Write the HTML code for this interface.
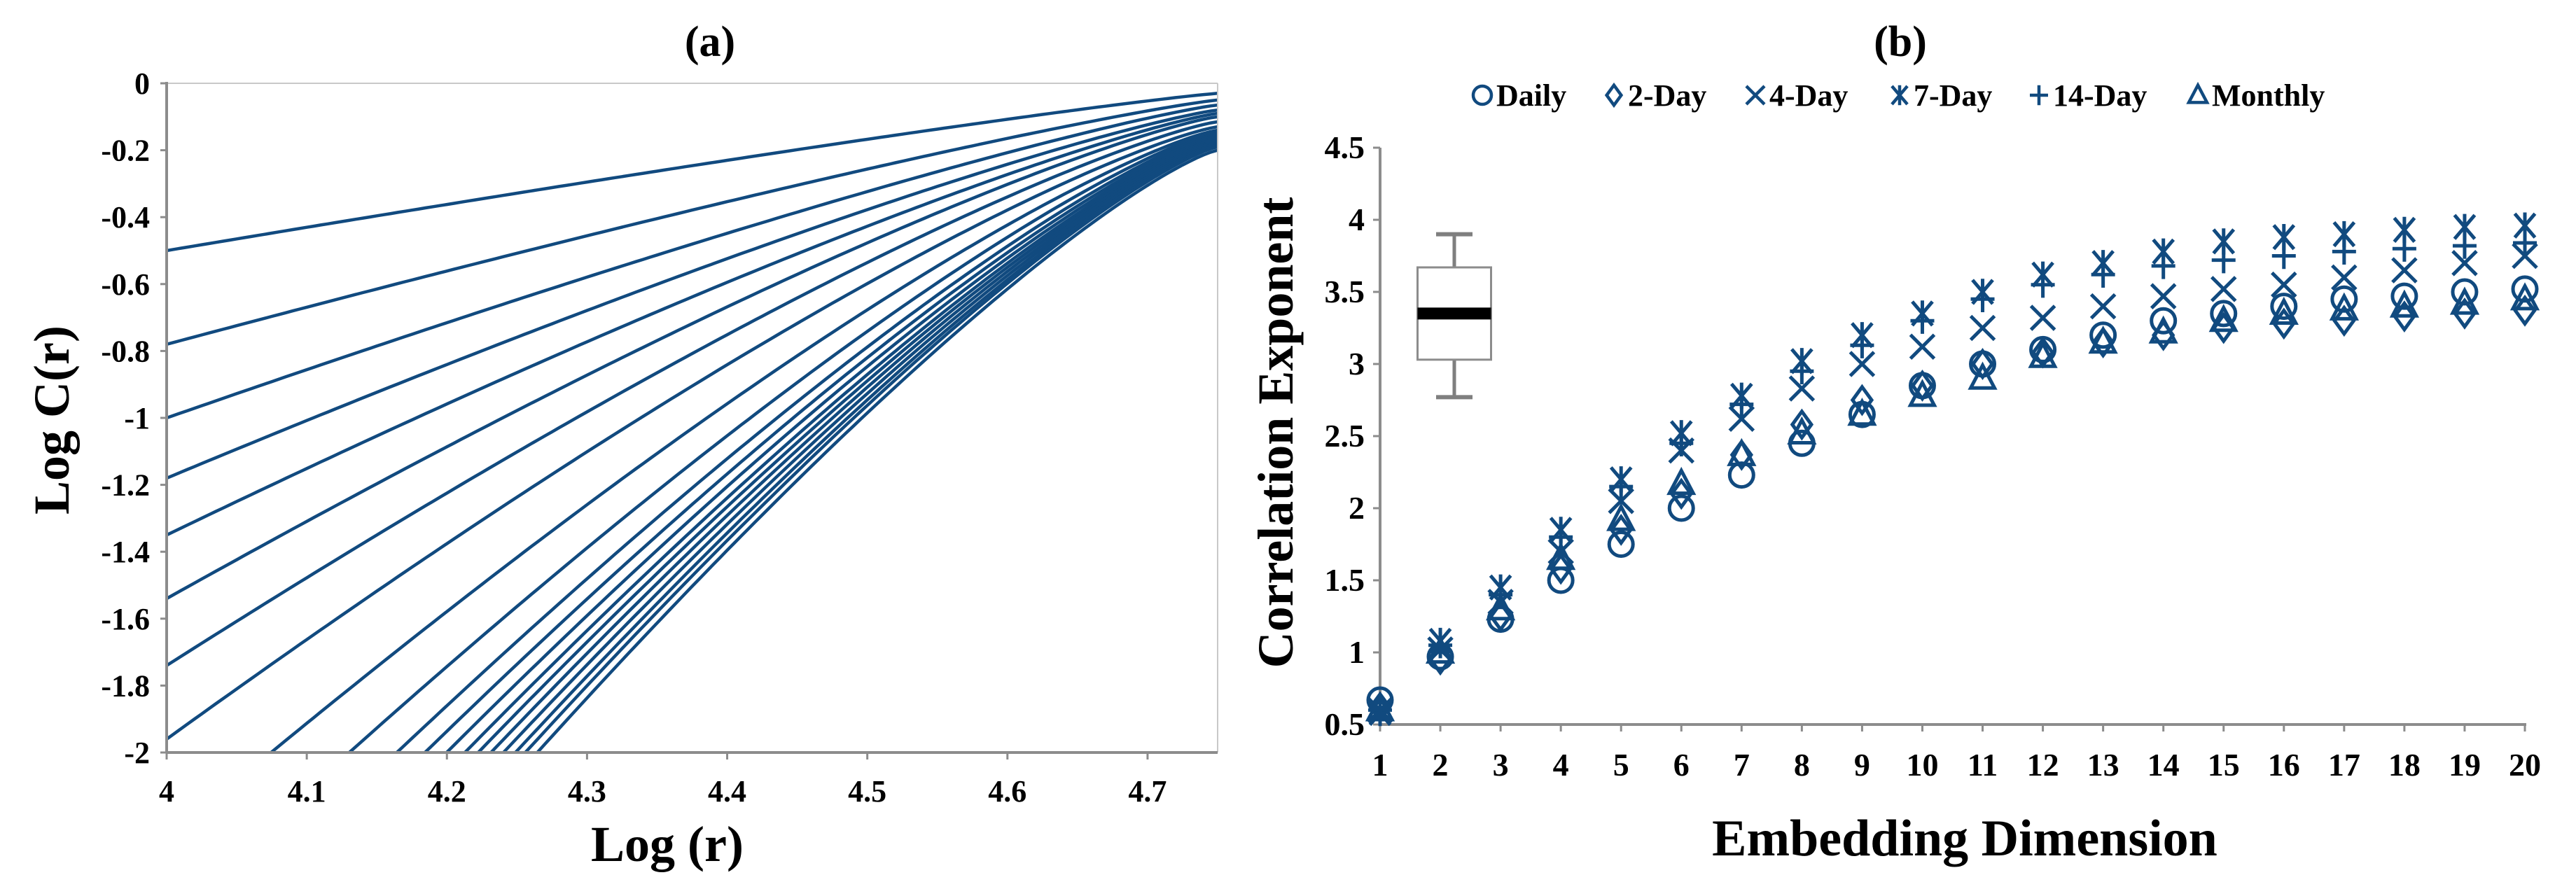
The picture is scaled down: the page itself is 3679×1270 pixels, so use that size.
<!DOCTYPE html>
<html><head><meta charset="utf-8"><style>
html,body{margin:0;padding:0;background:#fff;overflow:hidden;width:3679px;height:1270px;}
svg{display:block;font-family:"Liberation Serif",serif;font-weight:bold;}
</style></head><body>
<svg id="fig" width="3679" height="1270" viewBox="0 0 3679 1270">
<g id="pa"></g>
<g id="pb"></g>
</svg>
<script>
// ---------- Panel (a) data ----------
const aXTicks = [4, 4.1, 4.2, 4.3, 4.4, 4.5, 4.6, 4.7];
const aYTicks = [0, -0.2, -0.4, -0.6, -0.8, -1, -1.2, -1.4, -1.6, -1.8, -2];
const aStartVals = [-0.5,-0.78,-1.0,-1.18,-1.35,-1.54,-1.74,-1.96,-2.26,-2.50,-2.67,-2.78,-2.87,-2.95,-3.01,-3.07,-3.13,-3.19,-3.24,-3.30];
const aEndVals = [-0.03,-0.05,-0.065,-0.08,-0.09,-0.1,-0.115,-0.13,-0.14,-0.145,-0.15,-0.155,-0.16,-0.165,-0.17,-0.175,-0.18,-0.185,-0.19,-0.2];
const aCurvature = [1.12,1.15,1.17,1.19,1.2,1.22,1.23,1.24,1.25,1.25,1.25,1.25,1.25,1.25,1.25,1.25,1.25,1.25,1.25,1.25];

// ---------- Panel (b) data ----------
const bDims = [1,2,3,4,5,6,7,8,9,10,11,12,13,14,15,16,17,18,19,20];
const bYTicks = [0.5,1,1.5,2,2.5,3,3.5,4,4.5];
const seriesNames = ["Daily","2-Day","4-Day","7-Day","14-Day","Monthly"];
const daily = [0.67,0.97,1.23,1.5,1.75,2.0,2.23,2.45,2.65,2.85,3.0,3.1,3.2,3.3,3.35,3.4,3.45,3.47,3.5,3.52];
const twoDay = [0.62,0.95,1.25,1.58,1.85,2.1,2.37,2.58,2.75,2.85,3.0,3.08,3.15,3.2,3.25,3.28,3.3,3.33,3.35,3.37];
const fourDay = [0.6,1.02,1.35,1.7,2.05,2.4,2.62,2.83,3.0,3.12,3.25,3.32,3.4,3.47,3.52,3.55,3.6,3.65,3.7,3.75];
const sevenDay = [0.58,1.08,1.45,1.85,2.2,2.52,2.78,3.02,3.2,3.35,3.5,3.62,3.7,3.78,3.85,3.88,3.9,3.93,3.95,3.96];
const fourteenDay = [0.6,1.05,1.4,1.8,2.15,2.45,2.72,2.95,3.13,3.3,3.45,3.55,3.62,3.68,3.72,3.75,3.78,3.8,3.82,3.84];
const monthly = [0.6,1.0,1.3,1.65,1.92,2.17,2.37,2.52,2.65,2.78,2.9,3.05,3.15,3.22,3.3,3.35,3.38,3.4,3.42,3.45];
const boxStats = [2.77, 3.03, 3.35, 3.67, 3.90]; // min, q1, median, q3, max

const NS = "http://www.w3.org/2000/svg";
const COL = "#114a7f";
const AX = "#8c8c8c";
function mk(parent, tag, attrs, text){
  const e = document.createElementNS(NS, tag);
  for (const k in attrs) e.setAttribute(k, attrs[k]);
  if (text !== undefined) e.textContent = text;
  parent.appendChild(e);
  return e;
}

// ===== Panel A =====
const pa = document.getElementById('pa');
const aL=238, aR=1739, aT=119, aB=1075;
const ax = v => aL + (v-4)/(4.75-4)*(aR-aL);
const ay = v => aT + (0-v)/2*(aB-aT);
let t = mk(pa,'text',{x:1014,y:80,'font-size':62,'text-anchor':'middle'},'(a)');
 
const clip = mk(mk(pa,'defs',{}),'clipPath',{id:'clipA'});
mk(clip,'rect',{x:aL,y:aT,width:aR-aL,height:aB-aT});
const linesG = mk(pa,'g',{'clip-path':'url(#clipA)'});
 
for (let i=0;i<aStartVals.length;i++){
  let d='';
  for (let k=0;k<=150;k++){
    const x = 4 + 0.75*k/150;
    const tt = (4.75-x)/0.75;
    const y = aEndVals[i] + (aStartVals[i]-aEndVals[i])*Math.pow(tt,aCurvature[i]);
    d += (k?'L':'M')+ax(x).toFixed(1)+','+ay(y).toFixed(1);
  }
  const p = mk(linesG,'path',{d:d,fill:'none',stroke:COL,'stroke-width':4.5});
  
  
}
mk(pa,'line',{x1:aL,y1:aT,x2:aR,y2:aT,stroke:'#c8c8c8','stroke-width':2});
mk(pa,'line',{x1:aR,y1:aT,x2:aR,y2:aB,stroke:'#c8c8c8','stroke-width':2});
let axl = mk(pa,'line',{x1:aL,y1:aT-2,x2:aL,y2:aB,stroke:AX,'stroke-width':4});
 
axl = mk(pa,'line',{x1:aL,y1:aB,x2:aR,y2:aB,stroke:AX,'stroke-width':4});
 
aYTicks.forEach(v=>{
  mk(pa,'line',{x1:aL-9,y1:ay(v),x2:aL,y2:ay(v),stroke:AX,'stroke-width':3});
  const e = mk(pa,'text',{x:aL-24,y:ay(v)+15,'font-size':44,'text-anchor':'end'},String(v));
   
});
aXTicks.forEach(v=>{
  mk(pa,'line',{x1:ax(v),y1:aB,x2:ax(v),y2:aB+10,stroke:AX,'stroke-width':3});
  const e = mk(pa,'text',{x:ax(v),y:1145,'font-size':44,'text-anchor':'middle'},String(v));
   
});
t = mk(pa,'text',{x:953,y:1230,'font-size':72,'text-anchor':'middle'},'Log (r)');
 
t = mk(pa,'text',{x:0,y:0,'font-size':72,'text-anchor':'middle',transform:'translate(98,600) rotate(-90)'},'Log C(r)');
 

// ===== Panel B =====
const pb = document.getElementById('pb');
const bL=1971, bR=3606, bT=211, bB=1035;
const bx = v => bL + (v-1)/(20-1)*(bR-bL);
const by = v => bB - (v-0.5)/4*(bB-bT);
t = mk(pb,'text',{x:2714,y:80,'font-size':62,'text-anchor':'middle'},'(b)');
 

function marker(g, type, cx, cy, s, sw){
  const a = {fill:'none',stroke:COL,'stroke-width':sw};
  if (type===0) mk(g,'circle',Object.assign({cx:cx,cy:cy,r:s},a));
  else if (type===1) mk(g,'path',Object.assign({d:`M${cx},${cy-s*1.1}L${cx+s*0.8},${cy}L${cx},${cy+s*1.1}L${cx-s*0.8},${cy}Z`},a));
  else if (type===2) mk(g,'path',Object.assign({d:`M${cx-s},${cy-s}L${cx+s},${cy+s}M${cx+s},${cy-s}L${cx-s},${cy+s}`},a));
  else if (type===3) mk(g,'path',Object.assign({d:`M${cx-s*0.85},${cy-s}L${cx+s*0.85},${cy+s}M${cx+s*0.85},${cy-s}L${cx-s*0.85},${cy+s}M${cx},${cy-s*1.1}L${cx},${cy+s*1.1}`},a));
  else if (type===4) mk(g,'path',Object.assign({d:`M${cx-s},${cy}L${cx+s},${cy}M${cx},${cy-s*1.1}L${cx},${cy+s*1.1}`},a));
  else mk(g,'path',Object.assign({d:`M${cx},${cy-s*1.1}L${cx+s},${cy+s*0.8}L${cx-s},${cy+s*0.8}Z`},a));
}

const legX = [2117, 2305, 2507, 2713, 2912, 3139];
const legG = mk(pb,'g',{});
 
seriesNames.forEach((n,i)=>{
  const g = mk(legG,'g',{});
  
  
  marker(g,i,legX[i],136,13,4.5);
  mk(g,'text',{x:legX[i]+20,y:151,'font-size':44},n);
});

let bl = mk(pb,'line',{x1:bL,y1:bT,x2:bL,y2:bB,stroke:AX,'stroke-width':4});
 
bl = mk(pb,'line',{x1:bL,y1:bB,x2:bR+2,y2:bB,stroke:AX,'stroke-width':4});
 
bYTicks.forEach(v=>{
  mk(pb,'line',{x1:bL-10,y1:by(v),x2:bL,y2:by(v),stroke:AX,'stroke-width':3});
  const e = mk(pb,'text',{x:bL-22,y:by(v)+15,'font-size':46,'text-anchor':'end'},String(v));
   
});
bDims.forEach(v=>{
  mk(pb,'line',{x1:bx(v),y1:bB,x2:bx(v),y2:bB+10,stroke:AX,'stroke-width':3});
  const e = mk(pb,'text',{x:bx(v),y:1108,'font-size':46,'text-anchor':'middle'},String(v));
   
});
t = mk(pb,'text',{x:2806,y:1222,'font-size':74,'text-anchor':'middle'},'Embedding Dimension');
 
t = mk(pb,'text',{x:0,y:0,'font-size':72,'text-anchor':'middle',transform:'translate(1846,618) rotate(-90)'},'Correlation Exponent');
 

const bxc = 2077, bw = 105;
const boxG = mk(pb,'g',{});
 
mk(boxG,'line',{x1:bxc,y1:by(boxStats[4]),x2:bxc,y2:by(boxStats[3]),stroke:'#7f7f7f','stroke-width':5});
mk(boxG,'line',{x1:bxc,y1:by(boxStats[1]),x2:bxc,y2:by(boxStats[0]),stroke:'#7f7f7f','stroke-width':5});
mk(boxG,'line',{x1:bxc-26,y1:by(boxStats[4]),x2:bxc+26,y2:by(boxStats[4]),stroke:'#7f7f7f','stroke-width':6});
mk(boxG,'line',{x1:bxc-26,y1:by(boxStats[0]),x2:bxc+26,y2:by(boxStats[0]),stroke:'#7f7f7f','stroke-width':6});
mk(boxG,'rect',{x:bxc-bw/2,y:by(boxStats[3]),width:bw,height:by(boxStats[1])-by(boxStats[3]),fill:'#fff',stroke:'#8c8c8c','stroke-width':3});
mk(boxG,'line',{x1:bxc-bw/2,y1:by(boxStats[2]),x2:bxc+bw/2,y2:by(boxStats[2]),stroke:'#000','stroke-width':17});

const allSeries = [daily, twoDay, fourDay, sevenDay, fourteenDay, monthly];
allSeries.forEach((arr,i)=>{
  const g = mk(pb,'g',{});
  
  
  arr.forEach((v,j)=>{
    marker(g,i,bx(bDims[j]),by(v),17,5);
  });
});
</script>
</body></html>
